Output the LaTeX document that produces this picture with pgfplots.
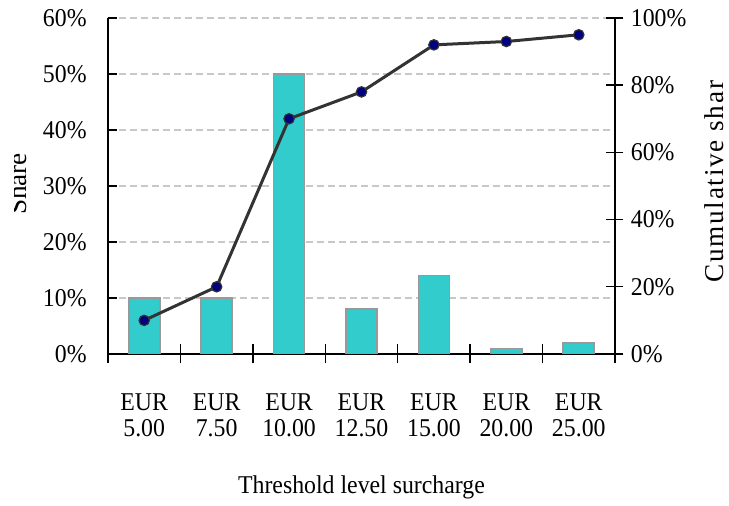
\documentclass[border=0pt]{standalone}
\usepackage{fontspec}
\setmainfont[FakeStretch=0.93]{Liberation Serif}
\newfontfamily\titleFont{Liberation Serif}
\newfontfamily\cumFont[LetterSpace=6.4]{Liberation Serif}
\usepackage{pgfplots}
\usepackage{pgfplotstable}
\pgfplotsset{compat=1.18}

\definecolor{barcyan}{HTML}{33CCCC}
\definecolor{baredge}{HTML}{999999}
\definecolor{linegrey}{HTML}{333333}
\definecolor{gridgrey}{HTML}{C8C8C8}
\definecolor{marknavy}{HTML}{000080}

% share per threshold level and running cumulative share (percent)
\pgfplotstableread{
x share cum
0 10 10
1 10 20
2 50 70
3 8  78
4 14 92
5 1  93
6 2  95
}\surcharge

\begin{document}
\begin{tikzpicture}[font=\fontsize{12.8}{13}\selectfont]
\begin{axis}[
  name=main,
  scale only axis, width=253.5pt, height=168pt,
  xmin=-0.5, xmax=6.5, ymin=0, ymax=60,
  axis x line*=bottom, axis y line*=left,
  axis line style={black, line width=0.7pt},
  /pgf/number format/assume math mode=true,
  ytick={0,10,...,60},
  yticklabel={\pgfmathprintnumber{\tick}\%},
  ytick align=inside, major tick length=4.5pt,
  yticklabel style={anchor=east, inner sep=0pt, xshift=-10.5pt},
  xtick={0,...,6},
  xticklabels={{EUR\\5.00},{EUR\\7.50},{EUR\\10.00},{EUR\\12.50},{EUR\\15.00},{EUR\\20.00},{EUR\\25.00}},
  xticklabel style={align=center, anchor=north, inner sep=0pt, yshift=-17.5pt},
  major x tick style={draw=none},
  minor xtick={-0.5,0.5,...,6.5},
  minor tick length=9.5pt, xtick align=center,
  minor x tick style={black, line width=0.7pt},
  tick style={black, line width=0.7pt},
  ymajorgrids,
  major grid style={gridgrey, dash pattern=on 3.5pt off 2pt, line width=0.6pt},
  xlabel={Threshold level surcharge},
  xlabel style={at={(axis description cs:0.5,0)}, anchor=base, inner sep=0pt, yshift=-70pt},
]
\addplot[ybar, bar width=15.5pt, fill=barcyan, draw=baredge, line width=0.8pt]
  table[x=x, y=share] {\surcharge};
\end{axis}

\begin{axis}[
  scale only axis, width=253.5pt, height=168pt,
  xmin=-0.5, xmax=6.5, ymin=0, ymax=100,
  axis x line=none, axis y line*=right,
  axis line style={black, line width=0.7pt},
  /pgf/number format/assume math mode=true,
  ytick={0,20,...,100},
  yticklabel={\pgfmathprintnumber{\tick}\%},
  ytick align=center, major tick length=8.5pt,
  tick style={black, line width=0.7pt},
  yticklabel style={anchor=west, inner sep=0pt, xshift=3.5pt},
  clip=false,
]
\addplot[linegrey, line width=1.5pt, mark=*, mark size=2.6pt,
  mark options={fill=marknavy, draw=linegrey, line width=0.6pt}]
  table[x=x, y=cum] {\surcharge};
\end{axis}

% axis titles, cut off at the edges of the frame
\begin{scope}
  \clip (-46.8pt,0pt) rectangle (0pt,177pt);
  \node[rotate=90, anchor=base, inner sep=0pt] at (-40.65pt,85pt)
    {\fontsize{13.6}{15}\titleFont Share};
\end{scope}
\begin{scope}
  \clip (250pt,0pt) rectangle (320pt,137pt);
  \node[rotate=90, anchor=base west, inner sep=0pt] at (307.5pt,35.5pt)
    {\fontsize{13.6}{15}\cumFont Cumulative share};
\end{scope}

\pgfresetboundingbox
\useasboundingbox (-54pt,-76pt) rectangle (310.5pt,177pt);
\end{tikzpicture}
\end{document}
